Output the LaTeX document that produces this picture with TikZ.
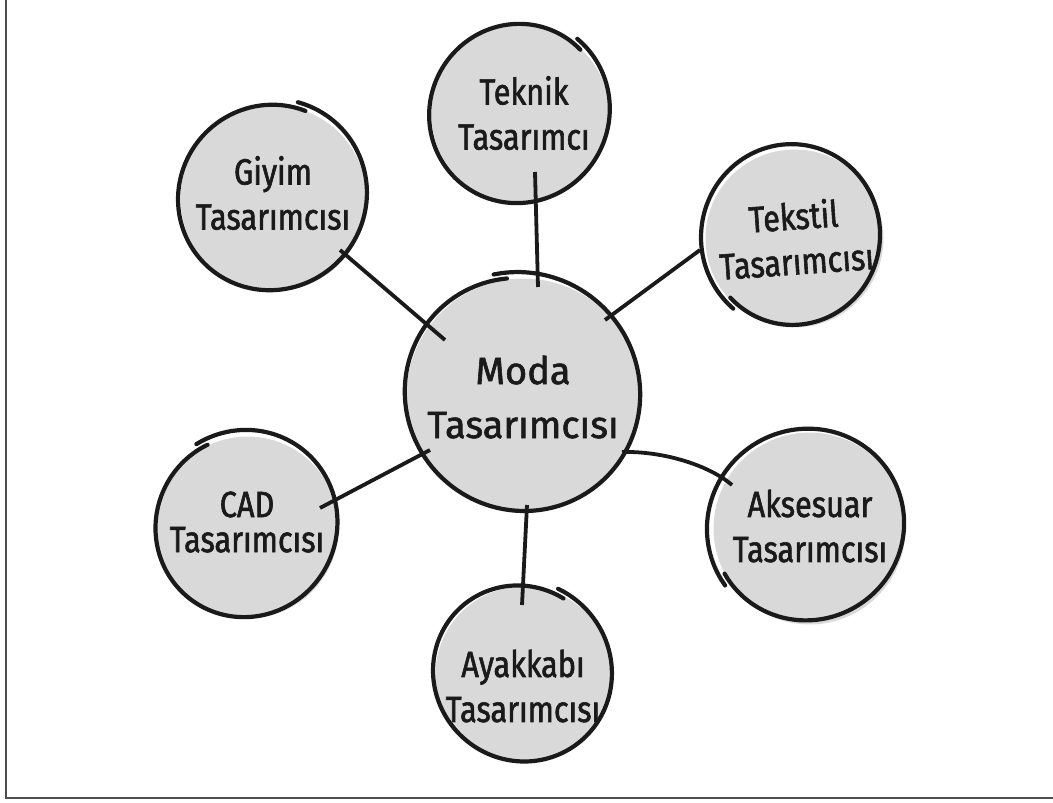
\documentclass[tikz,border=0pt]{standalone}
\usepackage{fontspec}
\setmainfont[FakeBold=1.6]{Fira Sans}
\newfontfamily\satfont[FakeStretch=0.84,FakeBold=1.6]{Fira Sans}
\usetikzlibrary{calc}
\definecolor{bubblegray}{HTML}{D9D9D9}
\definecolor{inkc}{HTML}{1A1A1A}
\definecolor{framec}{HTML}{4D4D4D}
\tikzset{
  ring/.style={draw=inkc, line width=4.2pt, line cap=round, line join=round},
  conn/.style={draw=inkc, line width=3.8pt, line cap=butt},
  bubble/.style={circle, inner sep=0pt, draw=none},
  lab/.style={align=center, text=inkc, inner sep=0pt, font=\satfont\fontsize{36.5}{45}\selectfont},
  labc/.style={align=center, text=inkc, inner sep=0pt, font=\fontsize{38}{54}\selectfont}
}
% #1 node name, #2 radius, #3 break angle, #4 wobble phase
\newcommand\sketchfill[2]{%
  \fill[bubblegray] ($(#1)+(2.5,-2.5)$) circle[radius={#2pt-1pt}];}
\newcommand\sketchring[4]{%
  \draw[ring, shift={(#1)}] plot[smooth, samples=90, domain=0:366, variable=\a]
    ({(#2-3+6*\a/366+1.2*sin(2*\a+#4))*cos(\a+#3)},
     {(#2-3+6*\a/366+1.2*sin(2*\a+#4))*sin(\a+#3)});}
\begin{document}
\begin{tikzpicture}[x=1pt,y=1pt]
\useasboundingbox (0,0) rectangle (1053,-803);
\draw[framec, line width=2pt] (6,0) -- (6,-798) -- (1053,-798);

% bubbles (named anchors)
\node[bubble, minimum size=236pt] (moda)     at (521,-393) {};
\node[bubble, minimum size=180pt] (teknik)   at (518,-112) {};
\node[bubble, minimum size=188pt] (giyim)    at (271,-196) {};
\node[bubble, minimum size=180pt] (tekstil)  at (792,-236) {};
\node[bubble, minimum size=184pt] (cad)      at (245,-525) {};
\node[bubble, minimum size=194pt] (aksesuar) at (807,-526) {};
\node[bubble, minimum size=178pt] (ayak)     at (521,-672) {};

\sketchfill{moda}{118}
\sketchfill{teknik}{90}
\sketchfill{giyim}{94}
\sketchfill{tekstil}{90}
\sketchfill{cad}{92}
\sketchfill{aksesuar}{97}
\sketchfill{ayak}{89}

\sketchring{moda}{118}{97}{20}
\sketchring{teknik}{90}{45}{70}
\sketchring{giyim}{94}{68}{140}
\sketchring{tekstil}{90}{225}{10}
\sketchring{cad}{92}{115}{200}
\sketchring{aksesuar}{97}{210}{90}
\sketchring{ayak}{89}{60}{300}

% connectors
\draw[conn] ($(teknik)+(17,-60)$) -- ($(moda)+(17,106)$);
\draw[conn] ($(giyim)+(69,-54)$) -- ($(moda)+(-76,53)$);
\draw[conn] ($(tekstil)+(-92,-14)$) -- ($(moda)+(84,73)$);
\draw[conn] ($(cad)+(75,17)$) -- ($(moda)+(-91,-57)$);
\draw[conn] ($(moda)+(101,-59)$) .. controls ($(moda)+(144,-58)$) and ($(aksesuar)+(-97,60)$) .. ($(aksesuar)+(-75,41)$);
\draw[conn] ($(moda)+(6,-112)$) -- ($(ayak)+(1,67)$);

% labels
\node[labc] (moda-t) at ($(moda)+(2,-4)$) {Moda\\Tasarımcısı};
\node[lab] (teknik-t) at ($(teknik)+(6,-1)$) {Teknik\\Tasarımcı};
\node[lab] (giyim-t) at ($(giyim)+(2,3)$) {Giyim\\Tasarımcısı};
\node[lab, rotate=4] (tekstil-t) at ($(tekstil)+(3,-2)$) {Tekstil\\Tasarımcısı};
\node[lab, font=\satfont\fontsize{36.5}{35}\selectfont] (cad-t) at ($(cad)+(2,3)$) {CAD\\Tasarımcısı};
\node[lab] (aksesuar-t) at ($(aksesuar)+(3,0)$) {Aksesuar\\Tasarımcısı};
\node[lab] (ayak-t) at ($(ayak)+(2,-14)$) {Ayakkabı\\Tasarımcısı};
\end{tikzpicture}
\end{document}
